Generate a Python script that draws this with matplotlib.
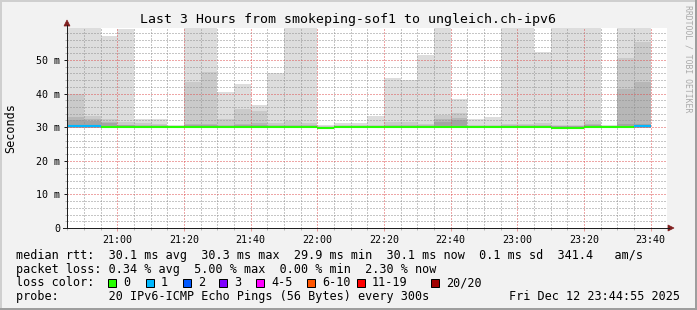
import matplotlib
matplotlib.use('Agg')
import matplotlib.pyplot as plt
from matplotlib.patches import Rectangle, Polygon
from matplotlib.lines import Line2D
import numpy as np

# 5 minute steps, minutes after 20:00
step_start = list(range(45, 220, 5))

# sorted pings per step (ms): max, 2nd, 3rd, 4th highest and min
ping_max = [66, 64, 57.1, 59.1, 32.3, 32.3, 30.8, 68, 65, 40.5, 42.9, 36.7, 46.2, 67, 63, 30.7, 31.2, 31.3,
            33.3, 44.6, 43.9, 51.6, 66, 38.3, 32.5, 33.0, 64, 62, 52.4, 65, 63, 61, 30.6, 67, 69]
ping_19 = [40.0, 33.2, 32.3, 31.5, 31.2, 31.0, 30.5, 43.5, 46.3, 32.3, 35.5, 34.9, 31.3, 31.8, 31.2, 30.4, 30.6, 30.6,
           30.8, 31.5, 31.5, 31.0, 33.5, 34.2, 30.8, 30.8, 31.0, 31.0, 31.3, 30.8, 30.6, 31.7, 30.4, 50.6, 55.4]
ping_18 = [33.0, 32.3, 31.5, 30.8, 30.6, 30.6, 30.3, 31.0, 31.0, 30.6, 31.0, 31.2, 30.7, 30.8, 30.7, 30.2, 30.4, 30.4,
           30.5, 30.6, 30.6, 30.6, 32.3, 32.8, 30.5, 30.5, 30.6, 30.7, 30.8, 30.5, 30.4, 31.0, 30.3, 41.5, 43.5]
ping_17 = [32.0, 31.7, 31.2, 30.6, 30.4, 30.4, 30.2, 30.6, 30.6, 30.4, 30.6, 30.7, 30.5, 30.5, 30.5, 30.1, 30.3, 30.3,
           30.4, 30.4, 30.4, 30.4, 31.6, 32.0, 30.4, 30.4, 30.4, 30.5, 30.5, 30.3, 30.3, 30.6, 30.2, 31.0, 31.0]
ping_min = [29.8]*15 + [29.5] + [29.8]*13 + [29.5, 29.5] + [29.8]*4
median = [30.3, 30.3, 30.2, 30.2, 30.2, 30.2, 30.1, 30.2, 30.2, 30.2, 30.2, 30.2, 30.2, 30.2, 30.1, 29.9, 30.1, 30.1,
          30.1, 30.1, 30.1, 30.1, 30.2, 30.2, 30.1, 30.1, 30.1, 30.1, 30.1, 29.9, 29.9, 30.1, 30.1, 30.2, 30.3]
loss = [1, 1] + [0]*32 + [1]

loss_labels = ['0', '1', '2', '3', '4-5', '6-10', '11-19', '20/20']
loss_colors = ['#26ff00', '#00b8ff', '#0059ff', '#7e00ff', '#ff00ff', '#ff5500', '#ff0000', '#a00000']

xticks = [60, 80, 100, 120, 140, 160, 180, 200, 220]
xticklabels = ['21:00', '21:20', '21:40', '22:00', '22:20', '22:40', '23:00', '23:20', '23:40']
yticks = [0, 10, 20, 30, 40, 50]
yticklabels = ['0', '10 m', '20 m', '30 m', '40 m', '50 m']

legend_lines = ['median rtt:  30.1 ms avg  30.3 ms max  29.9 ms min  30.1 ms now  0.1 ms sd  341.4   am/s',
                'packet loss: 0.34 % avg  5.00 % max  0.00 % min  2.30 % now',
                'loss color:',
                'probe:       20 IPv6-ICMP Echo Pings (56 Bytes) every 300s']
stamp = 'Fri Dec 12 23:44:55 2025'

W, H = 697, 310
mono = 'DejaVu Sans Mono'
grid_col = (0.56, 0.56, 0.56, 0.6)
mgrid_col = (0.87, 0.31, 0.31, 0.55)
axis_col = '#1f1f1f'
arrow_col = '#801f1f'


def fx(px):
    return px / W


def fy(py):
    return 1 - py / H


fig = plt.figure(figsize=(W/100, H/100), dpi=100, facecolor='#f2f2f2')
ax = fig.add_axes([fx(67), fy(228), 600/W, 200/H])
ax.set_facecolor('white')

# smoke: outer pair lightest, inner pairs darker
t = np.array(step_start)
lo = np.array(ping_min)
for upper, col in [(ping_max, '#dddddd'), (ping_19, '#cacaca'), (ping_18, '#b7b7b7'), (ping_17, '#a4a4a4')]:
    ax.bar(t, np.array(upper) - lo, bottom=lo, width=5, align='edge', color=col, linewidth=0, zorder=1)

# median line coloured by loss
med_cols = []
for n in loss:
    med_cols.append(loss_colors[n])
ax.hlines(median, t, t + 5, colors=med_cols, linewidth=1.5, zorder=3)

ax.set_xlim(44 + 55/60, 224 + 55/60)
ax.set_ylim(0, 200/3.36)

ax.set_xticks(xticks)
ax.set_xticklabels(xticklabels)
ax.set_xticks(list(range(45, 225, 5)), minor=True)
ax.set_yticks(yticks)
ax.set_yticklabels(yticklabels)
ax.set_yticks(list(range(0, 60, 2)), minor=True)

ax.set_axisbelow(False)
ax.grid(which='minor', color=grid_col, linestyle=(0, (1, 2)), linewidth=0.72)
ax.grid(which='major', color=mgrid_col, linestyle=(0, (1, 2)), linewidth=0.72)

ax.tick_params(which='major', length=2.2, width=0.72, color=mgrid_col, labelsize=7.2, pad=2.5)
ax.tick_params(which='minor', length=1.4, width=0.72, color=grid_col)
ax.tick_params(axis='y', which='major', color=axis_col, pad=2.9)
for lab in ax.get_xticklabels() + ax.get_yticklabels():
    lab.set_family(mono)

for s in ax.spines.values():
    s.set_visible(False)

# axes with arrows
fig.add_artist(Line2D([fx(67), fx(67)], [fy(228), fy(25)], color=axis_col, linewidth=0.72))
fig.add_artist(Line2D([fx(63), fx(669)], [fy(228), fy(228)], color=axis_col, linewidth=0.72))
fig.add_artist(Polygon([[fx(64), fy(26)], [fx(70), fy(26)], [fx(67), fy(20)]], closed=True,
                       facecolor=arrow_col, edgecolor=arrow_col, linewidth=0.5))
fig.add_artist(Polygon([[fx(668), fy(225)], [fx(668), fy(231)], [fx(674), fy(228)]], closed=True,
                       facecolor=arrow_col, edgecolor=arrow_col, linewidth=0.5))

fig.text(fx(348), fy(19), 'Last 3 Hours from smokeping-sof1 to ungleich.ch-ipv6', ha='center', va='center',
         fontsize=9.5, family=mono)
fig.text(fx(11), fy(128), 'Seconds', rotation=90, ha='center', va='center', fontsize=8.5, family=mono)
fig.text(fx(688), fy(5), 'RRDTOOL / TOBI OETIKER', rotation=-90, ha='center', va='top', fontsize=5.9,
         family=mono, color='#aaaaaa')

# legend block
baselines = [258.5, 272.5, 286.5, 300.3]
for txt, b in zip(legend_lines, baselines):
    fig.text(fx(16), fy(b), txt, ha='left', va='baseline', fontsize=8.5, family=mono)
fig.text(fx(680), fy(300.3), stamp, ha='right', va='baseline', fontsize=8.5, family=mono)

square_x = [108, 146, 183, 219, 256, 307, 357, 431]
for sx, lab, col in zip(square_x, loss_labels, loss_colors):
    fig.add_artist(Rectangle((fx(sx), fy(287)), 8/W, 8/H, facecolor=col, edgecolor='black', linewidth=0.72))
    fig.text(fx(sx + 15), fy(286.5), lab, ha='left', va='baseline', fontsize=8.5, family=mono)

# 3d frame
fig.add_artist(Rectangle((0, fy(2)), 1, 2/H, facecolor='#cfcfcf', edgecolor='none'))
fig.add_artist(Rectangle((0, 0), 2/W, 1, facecolor='#cfcfcf', edgecolor='none'))
fig.add_artist(Rectangle((0, 0), 1, 2/H, facecolor='#9e9e9e', edgecolor='none'))
fig.add_artist(Rectangle((fx(695), 0), 2/W, 1, facecolor='#9e9e9e', edgecolor='none'))

fig.savefig('out.png', dpi=100, facecolor=fig.get_facecolor())
